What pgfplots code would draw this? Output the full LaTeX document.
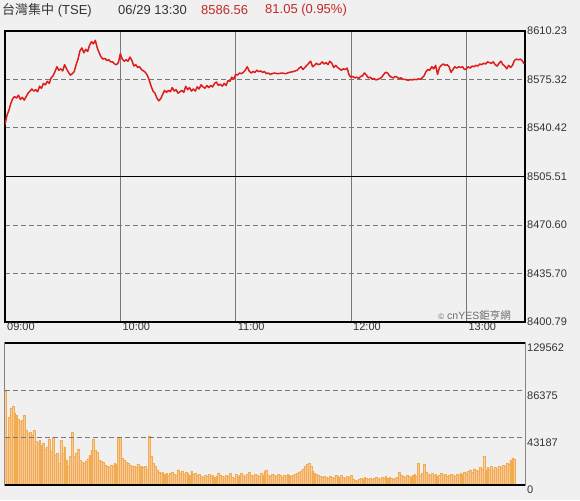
\documentclass[border=0pt]{standalone}
\usepackage{fontspec}
\setmainfont{Liberation Sans}
\newfontfamily\cjk{Noto Sans CJK TC}
\usepackage{pgfplots}
\usepackage{pgfplotstable}
\pgfplotsset{compat=1.18}
\definecolor{bg}{RGB}{240,240,240}
\definecolor{txt}{RGB}{51,51,51}
\definecolor{pred}{RGB}{222,28,28}
\definecolor{tred}{RGB}{196,40,40}
\definecolor{gridc}{RGB}{120,120,120}
\definecolor{volfill}{RGB}{249,200,158}
\definecolor{voledge}{RGB}{242,172,80}
\definecolor{volaxis}{RGB}{240,160,60}

\pgfplotstableread[row sep=\\]{v\\
86000\\44000\\62000\\70000\\72000\\66000\\64000\\60000\\58000\\59000\\
64000\\50000\\47000\\48000\\46000\\50000\\40000\\38000\\41000\\36000\\
38000\\33000\\35000\\42000\\31000\\44000\\27000\\29000\\20000\\41000\\
29000\\35000\\23000\\17000\\26000\\48000\\26000\\29000\\33000\\23000\\
21000\\20000\\22000\\24000\\27000\\32000\\42000\\32000\\30000\\23000\\
22000\\21000\\18000\\17000\\16000\\18000\\17000\\20000\\19000\\44000\\
44000\\25000\\23000\\21000\\20000\\18000\\17000\\17000\\16000\\19000\\
17000\\17000\\16000\\17000\\15000\\45000\\26000\\20000\\17000\\14000\\
12000\\11000\\12000\\10000\\11000\\9000\\11000\\12000\\10000\\9000\\
14000\\11000\\13000\\10000\\12000\\11000\\9000\\13000\\10000\\11000\\
9000\\10000\\8000\\7000\\9000\\8000\\10000\\8000\\9000\\7000\\
8000\\11000\\9000\\8000\\7000\\9000\\8000\\11000\\7000\\6000\\
10000\\8000\\9000\\11000\\9000\\8000\\10000\\12000\\9000\\8000\\
10000\\9000\\8000\\11000\\9000\\13000\\14000\\9000\\8000\\10000\\
9000\\8000\\10000\\9000\\7000\\9000\\8000\\10000\\9000\\8000\\
9000\\10000\\11000\\12000\\13000\\15000\\17000\\19000\\20000\\17000\\
13000\\11000\\10000\\9000\\8000\\7000\\8000\\7000\\6000\\8000\\
7000\\6000\\9000\\8000\\7000\\9000\\7000\\6000\\8000\\7000\\
9000\\5000\\4500\\4000\\5000\\6000\\5000\\7000\\6000\\5000\\
6000\\5000\\6000\\7000\\6000\\5000\\7000\\6000\\8000\\6000\\
7000\\6000\\5000\\6000\\7000\\12000\\9000\\8000\\7000\\9000\\
8000\\7000\\9000\\10000\\8000\\20000\\9000\\11000\\19000\\12000\\
10000\\9000\\11000\\9000\\10000\\8000\\9000\\11000\\9000\\10000\\
8000\\9000\\10000\\9000\\8000\\10000\\9000\\11000\\10000\\12000\\
11000\\13000\\14000\\12000\\15000\\14000\\13000\\16000\\15000\\26000\\
14000\\16000\\15000\\17000\\14000\\16000\\15000\\17000\\16000\\18000\\
17000\\20000\\19000\\23000\\25000\\24000\\
}\voltable

\begin{document}
\begin{tikzpicture}
\path[use as bounding box, fill=bg] (0pt,0pt) rectangle (580pt,500pt);

% title line
\node[anchor=west, inner sep=0pt, text=txt, font=\fontsize{13}{15}\selectfont] at (2pt,490pt) {{\cjk 台灣集中} (TSE)};
\node[anchor=west, inner sep=0pt, text=txt, font=\fontsize{13}{15}\selectfont] at (118pt,490pt) {06/29 13:30};
\node[anchor=west, inner sep=0pt, text=tred, font=\fontsize{13}{15}\selectfont] at (201pt,490pt) {8586.56};
\node[anchor=west, inner sep=0pt, text=tred, font=\fontsize{13}{15}\selectfont] at (265pt,490pt) {81.05 (0.95\%)};

% price panel
\begin{axis}[
  at={(5pt,178pt)}, anchor=south west,
  width=520pt, height=291pt, scale only axis,
  xmin=0, xmax=270.5, ymin=8400.79, ymax=8610.23,
  xtick={0,60,120,180,240},
  xticklabels={09:00,10:00,11:00,12:00,13:00},
  ytick={8400.79,8435.70,8470.60,8505.51,8540.42,8575.32,8610.23},
  yticklabels={8400.79,8435.70,8470.60,8505.51,8540.42,8575.32,8610.23},
  yticklabel pos=right,
  major tick length=0pt,
  xmajorgrids, ymajorgrids,
  x grid style={gridc, line width=0.9pt},
  y grid style={gridc, line width=1pt, dash pattern=on 5pt off 3pt},
  xticklabel style={anchor=north west, inner sep=1pt, xshift=1pt, text=txt, font=\fontsize{11}{12}\selectfont},
  yticklabel style={anchor=west, inner sep=1pt, xshift=1pt, text=txt, font=\fontsize{11}{12}\selectfont},
  axis line style={black, line width=1.2pt},
]
\draw[black, line width=1.2pt] (axis cs:0,8505.51) -- (axis cs:270.5,8505.51);
\addplot[pred, line width=1.5pt, line join=round] coordinates {
(0,8543.0) (0.5,8546) (1,8549.5) (2,8553) (3,8558) (4,8561.5) (5,8563) (6,8562) (7,8564) (8,8561) (9,8562.5)
(10,8560.5) (11,8563) (12,8565.5) (13,8567) (14,8568.5) (15,8567) (16,8568) (17,8566.5) (18,8570.5) (19,8569)
(20,8572.5) (21,8571.5) (22,8574) (23,8572.5) (24,8576.5) (25,8578) (26,8581) (27,8584.5) (28,8582) (29,8583)
(30,8581.5) (31,8586) (32,8583) (33,8580.5) (34,8578.5) (35,8579.5) (36,8581) (37,8586) (38,8590) (39,8596)
(40,8598) (41,8594.5) (42,8597) (43,8595.5) (44,8600) (45,8602.5) (46,8601) (47,8603.5) (48,8598) (49,8594.5)
(50,8591.5) (51,8590) (52,8590.5) (53,8589) (54,8589.5) (55,8588) (56,8588) (57,8586.5) (58,8586) (59,8587.5)
(60,8594) (61,8590) (62,8588.5) (63,8589.5) (64,8588.5) (65,8591.5) (66,8589) (67,8585) (68,8586) (69,8584)
(70,8584.5) (71,8582.5) (72,8581.5) (73,8580.5) (74,8578.5) (75,8575) (76,8570.5) (77,8567) (78,8565.5) (79,8562)
(80,8560) (81,8561.5) (82,8564.5) (83,8567.5) (84,8566) (85,8567.5) (86,8566.5) (87,8569.5) (88,8567) (89,8568)
(90,8565.5) (91,8566.5) (92,8567.5) (93,8566) (94,8570.5) (95,8568) (96,8569.5) (97,8567) (98,8568.5) (99,8567)
(100,8570) (101,8568.5) (102,8571.5) (103,8570) (104,8569) (105,8571) (106,8569.5) (107,8571) (108,8570) (109,8572.5)
(110,8573.5) (111,8571) (112,8572) (113,8570.5) (114,8572.5) (115,8571) (116,8574.5) (117,8574) (118,8577) (119,8575.5)
(120,8579) (121,8578.5) (122,8580) (123,8579.5) (124,8580.5) (125,8582) (126,8584.5) (127,8581.5) (128,8580) (129,8581)
(130,8580.5) (131,8582) (132,8581) (133,8581.5) (134,8580.5) (135,8581) (136,8579.5) (137,8580) (138,8579) (139,8579.5)
(140,8580) (142,8579.5) (144,8580) (146,8579.5) (148,8580.5) (150,8581) (152,8582) (153,8583.5) (154,8584.5) (155,8582.5)
(156,8584) (157,8585.5) (158,8587) (159,8588.5) (160,8584.5) (161,8585.5) (162,8587) (163,8586) (164,8586.5) (165,8588)
(166,8586.5) (167,8587.5) (168,8586) (169,8588.5) (170,8587) (171,8584) (172,8585.5) (173,8584) (174,8583) (175,8582)
(176,8583) (177,8582.5) (178,8583.5) (179,8578.5) (180,8577) (181,8577.5) (182,8576.5) (183,8577) (184,8576) (185,8577.5)
(186,8578) (187,8580) (188,8578.5) (189,8576.5) (190,8577) (191,8575.5) (192,8576) (193,8575) (194,8575.5) (195,8576)
(196,8577) (197,8579) (198,8580.5) (199,8580) (200,8578) (201,8577) (202,8576.5) (203,8577.5) (204,8577) (205,8576)
(206,8576.5) (207,8575.5) (208,8575.5) (209,8575) (210,8574.8) (211,8575.3) (212,8575) (213,8575.5) (214,8575.2) (215,8575.8)
(216,8575.5) (217,8576.5) (218,8578) (219,8581) (220,8582.5) (221,8582) (222,8584.5) (223,8583) (224,8585.5) (225,8579)
(226,8584) (227,8585.5) (228,8586.5) (229,8585.5) (230,8586) (231,8584.5) (232,8580.5) (233,8582.5) (234,8584.5) (235,8583.5)
(236,8584.5) (237,8584) (238,8584.5) (239,8582.5) (240,8583) (241,8584.5) (242,8583.5) (243,8585) (244,8584.5) (245,8585.5)
(246,8585) (247,8586.5) (248,8586) (249,8587) (250,8586.5) (251,8588) (252,8587.5) (253,8587) (254,8588) (255,8586)
(256,8585) (257,8587) (258,8588.5) (259,8586) (260,8585) (261,8583) (262,8585.5) (263,8584) (264,8585.5) (265,8589)
(266,8590) (267,8589.5) (268,8590) (269,8589) (270,8586.6)
};
\node[anchor=south east, inner sep=1pt, text=gridc!90!black, font=\fontsize{10.5}{12}\selectfont] at (rel axis cs:0.975,0.0) {\raisebox{0.5pt}{\fontsize{8}{9}\selectfont\textcopyright} cnYES{\cjk 鉅亨網}};
\end{axis}

% volume panel
\begin{axis}[
  at={(5pt,15pt)}, anchor=south west,
  width=520pt, height=142pt, scale only axis,
  xmin=0, xmax=270.5, ymin=0, ymax=129562,
  xtick=\empty,
  ytick={0,43187,86375,129562},
  yticklabels={0,43187,86375,129562},
  yticklabel pos=right,
  major tick length=0pt,
  yticklabel style={anchor=west, inner sep=1pt, xshift=1pt, yshift=-5pt, text=txt, font=\fontsize{11}{12}\selectfont},
  scaled y ticks=false,
  axis line style={gray, line width=1pt},
]
\addplot[ybar, bar width=0.95, fill=volfill, draw=voledge, line width=0.1pt]
  table[x expr=\coordindex, y=v] {\voltable};
\draw[gridc, line width=1pt, dash pattern=on 5pt off 3pt] (axis cs:0,43187) -- (axis cs:270.5,43187);
\draw[gridc, line width=1pt, dash pattern=on 5pt off 3pt] (axis cs:0,86375) -- (axis cs:270.5,86375);
\draw[black, line width=1.2pt] (rel axis cs:0,1) -- (rel axis cs:1,1);
\draw[black, line width=1.2pt] (rel axis cs:0,0) -- (rel axis cs:1,0);
\draw[volaxis, line width=1pt] (rel axis cs:1,0) -- (rel axis cs:1,1);
\end{axis}
\end{tikzpicture}
\end{document}
